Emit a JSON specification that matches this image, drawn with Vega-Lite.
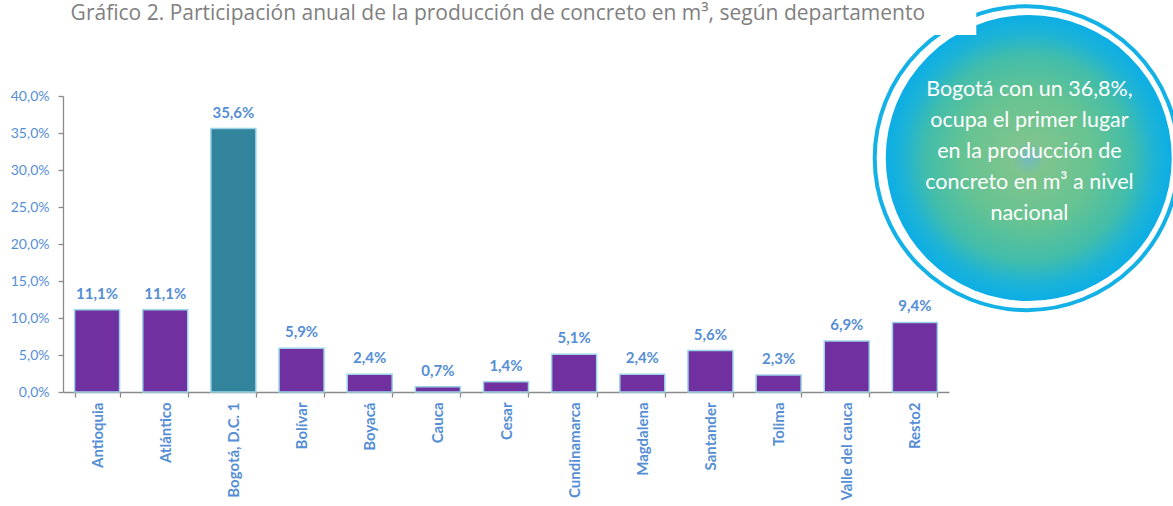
{
  "$schema": "https://vega.github.io/schema/vega-lite/v6.json",
  "width": 886,
  "height": 296,
  "autosize": {"type": "none"},
  "padding": {"left": 63, "top": 96, "right": 224, "bottom": 114},
  "background": "white",
  "config": {
    "view": {"stroke": null},
    "font": "Lato",
    "locale": {"number": {"decimal": ",", "thousands": ".", "grouping": [3], "currency": ["$", ""]}}
  },
  "datasets": {
    "bars": [
      {"departamento": "Antioquia", "participacion": 0.111},
      {"departamento": "Atlántico", "participacion": 0.111},
      {"departamento": "Bogotá, D.C. 1", "participacion": 0.356},
      {"departamento": "Bolívar", "participacion": 0.059},
      {"departamento": "Boyacá", "participacion": 0.024},
      {"departamento": "Cauca", "participacion": 0.007},
      {"departamento": "Cesar", "participacion": 0.014},
      {"departamento": "Cundinamarca", "participacion": 0.051},
      {"departamento": "Magdalena", "participacion": 0.024},
      {"departamento": "Santander", "participacion": 0.056},
      {"departamento": "Tolima", "participacion": 0.023},
      {"departamento": "Valle del cauca", "participacion": 0.069},
      {"departamento": "Resto2", "participacion": 0.094}
    ],
    "note": [
      {"texto": ["Bogotá con un 36,8%,", "ocupa el primer lugar", "en la producción de", "concreto en m³ a nivel", "nacional"]}
    ],
    "titulo": [
      {"texto": "Gráfico 2. Participación anual de la producción de concreto en m³, según departamento"}
    ]
  },
  "layer": [
    {
      "data": {"name": "bars"},
      "mark": {"type": "bar", "stroke": "#9ad4e6", "strokeWidth": 1.5},
      "encoding": {
        "x": {
          "field": "departamento",
          "type": "nominal",
          "sort": null,
          "scale": {"paddingInner": 0.34, "paddingOuter": 0.17},
          "axis": {
            "title": null,
            "labelAngle": -90,
            "labelAlign": "right",
            "labelBaseline": "middle",
            "labelFont": "Lato",
            "labelFontWeight": "bold",
            "labelFontSize": 15,
            "labelColor": "#558ed5",
            "tickBand": "extent",
            "tickSize": 5,
            "labelPadding": 5,
            "domainColor": "#8a8a8a",
            "tickColor": "#8a8a8a",
            "domainWidth": 1.3,
            "tickWidth": 1.3
          }
        },
        "y": {
          "field": "participacion",
          "type": "quantitative",
          "scale": {"domain": [0, 0.4], "nice": false},
          "axis": {
            "title": null,
            "values": [0, 0.05, 0.1, 0.15, 0.2, 0.25, 0.3, 0.35, 0.4],
            "format": ".1%",
            "grid": false,
            "labelOverlap": false,
            "labelFont": "Lato",
            "labelFontSize": 14,
            "labelColor": "#558ed5",
            "labelPadding": 9,
            "tickSize": 5,
            "domainColor": "#8a8a8a",
            "tickColor": "#8a8a8a",
            "domainWidth": 1.3,
            "tickWidth": 1.3
          }
        },
        "color": {
          "condition": {"test": "datum.departamento === 'Bogotá, D.C. 1'", "value": "#31849b"},
          "value": "#7030a0"
        }
      }
    },
    {
      "data": {"name": "bars"},
      "mark": {"type": "text", "dy": -11, "baseline": "alphabetic", "font": "Lato", "fontWeight": "bold", "fontSize": 15, "color": "#558ed5"},
      "encoding": {
        "x": {"field": "departamento", "type": "nominal", "sort": null, "scale": {"paddingInner": 0.34, "paddingOuter": 0.17}, "axis": null},
        "y": {"field": "participacion", "type": "quantitative", "scale": {"domain": [0, 0.4], "nice": false}, "axis": null},
        "text": {"field": "participacion", "type": "quantitative", "format": ".1%"}
      }
    },
    {
      "data": {"name": "note"},
      "mark": {
        "type": "point",
        "shape": "circle",
        "filled": true,
        "opacity": 1,
        "size": 81796,
        "strokeWidth": 0,
        "fill": {
          "gradient": "radial",
          "x1": 0.5, "y1": 0.5, "r1": 0,
          "x2": 0.5, "y2": 0.5, "r2": 0.5,
          "stops": [
            {"offset": 0, "color": "#72b9c0"},
            {"offset": 0.12, "color": "#7ec48e"},
            {"offset": 0.45, "color": "#66c392"},
            {"offset": 0.72, "color": "#42bdaa"},
            {"offset": 0.88, "color": "#1db3d6"},
            {"offset": 1, "color": "#0caee6"}
          ]
        }
      },
      "encoding": {
        "x": {"datum": 14.17, "type": "quantitative", "scale": {"domain": [0, 13], "nice": false, "zero": false}, "axis": null},
        "y": {"datum": 0.3162, "type": "quantitative", "scale": {"domain": [0, 0.4], "nice": false}, "axis": null}
      }
    },
    {
      "data": {"name": "note"},
      "mark": {"type": "point", "shape": "circle", "filled": false, "opacity": 1, "size": 92416, "stroke": "#14b1e7", "strokeWidth": 4},
      "encoding": {
        "x": {"datum": 14.14, "type": "quantitative", "scale": {"domain": [0, 13], "nice": false, "zero": false}, "axis": null},
        "y": {"datum": 0.316, "type": "quantitative", "scale": {"domain": [0, 0.4], "nice": false}, "axis": null}
      }
    },
    {
      "data": {"name": "note"},
      "mark": {"type": "rect", "fill": "white"},
      "encoding": {
        "x": {"datum": 12.72, "type": "quantitative", "scale": {"domain": [0, 13], "nice": false, "zero": false}, "axis": null},
        "x2": {"datum": 13.4},
        "y": {"datum": 0.53, "type": "quantitative", "scale": {"domain": [0, 0.4], "nice": false}, "axis": null},
        "y2": {"datum": 0.4824}
      }
    },
    {
      "data": {"name": "note"},
      "mark": {"type": "text", "align": "center", "baseline": "middle", "font": "Lato", "fontSize": 21.5, "lineHeight": 31, "color": "white"},
      "encoding": {
        "x": {"datum": 14.18, "type": "quantitative", "scale": {"domain": [0, 13], "nice": false, "zero": false}, "axis": null},
        "y": {"datum": 0.408, "type": "quantitative", "scale": {"domain": [0, 0.4], "nice": false}, "axis": null},
        "text": {"field": "texto"}
      }
    },
    {
      "data": {"name": "titulo"},
      "mark": {"type": "text", "align": "center", "baseline": "alphabetic", "font": "Open Sans", "fontSize": 21, "color": "#808080"},
      "encoding": {
        "x": {"datum": 6.38, "type": "quantitative", "scale": {"domain": [0, 13], "nice": false, "zero": false}, "axis": null},
        "y": {"datum": 0.5027, "type": "quantitative", "scale": {"domain": [0, 0.4], "nice": false}, "axis": null},
        "text": {"field": "texto"}
      }
    }
  ],
  "resolve": {"scale": {"x": "independent", "y": "independent"}}
}
